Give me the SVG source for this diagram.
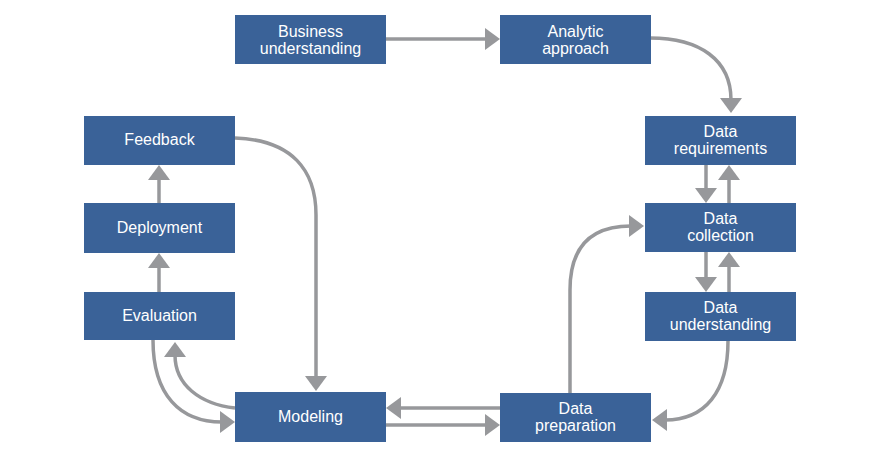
<svg xmlns="http://www.w3.org/2000/svg" width="877" height="472" viewBox="0 0 877 472">
<defs>
<style>
.box{fill:#3a6298;}
.lbl{fill:#ffffff;font-family:"Liberation Sans",Arial,sans-serif;font-size:16px;text-anchor:middle;}
.c{fill:none;stroke:#97989b;stroke-width:3.5;marker-end:url(#ah);}
</style>
<marker id="ah" markerUnits="userSpaceOnUse" markerWidth="16" markerHeight="22" refX="2" refY="11" orient="auto" viewBox="0 0 15 22">
<path d="M0,0 L15,11 L0,22 z" fill="#97989b"/>
</marker>
</defs>
<rect width="877" height="472" fill="#ffffff"/>
<g id="connectors">
<path class="c" d="M386,39 L487,39"/>
<path class="c" d="M650,38 C700,38 731,60 731,100"/>
<path class="c" d="M706,165 L706,190"/>
<path class="c" d="M729,203 L729,178"/>
<path class="c" d="M706,252 L706,279"/>
<path class="c" d="M729,292 L729,265"/>
<path class="c" d="M728,341 C728,392 705,420 665,420"/>
<path class="c" d="M570,393 L570,290 C570,248 590,226 631,226"/>
<path class="c" d="M500,408 L399,408"/>
<path class="c" d="M386,425 L487,425"/>
<path class="c" d="M235,138 C292,140 316,170 316,215 L316,378"/>
<path class="c" d="M159,292 L159,266"/>
<path class="c" d="M159,203 L159,178"/>
<path class="c" d="M153,340 C153,395 180,422 222,422"/>
<path class="c" d="M235,408 C200,404 175,385 175,355"/>
</g>
<g id="business"><rect class="box" x="235" y="15" width="151" height="49"/><text class="lbl" x="310.5" y="37">Business</text><text class="lbl" x="310.5" y="54">understanding</text></g>
<g id="analytic"><rect class="box" x="500" y="15" width="151" height="49"/><text class="lbl" x="575.5" y="37">Analytic</text><text class="lbl" x="575.5" y="54">approach</text></g>
<g id="requirements"><rect class="box" x="645" y="116" width="151" height="49"/><text class="lbl" x="720.5" y="137">Data</text><text class="lbl" x="720.5" y="154">requirements</text></g>
<g id="collection"><rect class="box" x="645" y="203" width="151" height="49"/><text class="lbl" x="720.5" y="224">Data</text><text class="lbl" x="720.5" y="241">collection</text></g>
<g id="understanding"><rect class="box" x="645" y="292" width="151" height="49"/><text class="lbl" x="720.5" y="313">Data</text><text class="lbl" x="720.5" y="330">understanding</text></g>
<g id="preparation"><rect class="box" x="500" y="393" width="151" height="49"/><text class="lbl" x="575.5" y="414">Data</text><text class="lbl" x="575.5" y="431">preparation</text></g>
<g id="modeling"><rect class="box" x="235" y="392" width="151" height="50"/><text class="lbl" x="310.5" y="421.5">Modeling</text></g>
<g id="evaluation"><rect class="box" x="84" y="292" width="151" height="48"/><text class="lbl" x="159.5" y="320.5">Evaluation</text></g>
<g id="deployment"><rect class="box" x="84" y="203" width="151" height="50"/><text class="lbl" x="159.5" y="233">Deployment</text></g>
<g id="feedback"><rect class="box" x="84" y="116" width="151" height="49"/><text class="lbl" x="159.5" y="145">Feedback</text></g>
</svg>
